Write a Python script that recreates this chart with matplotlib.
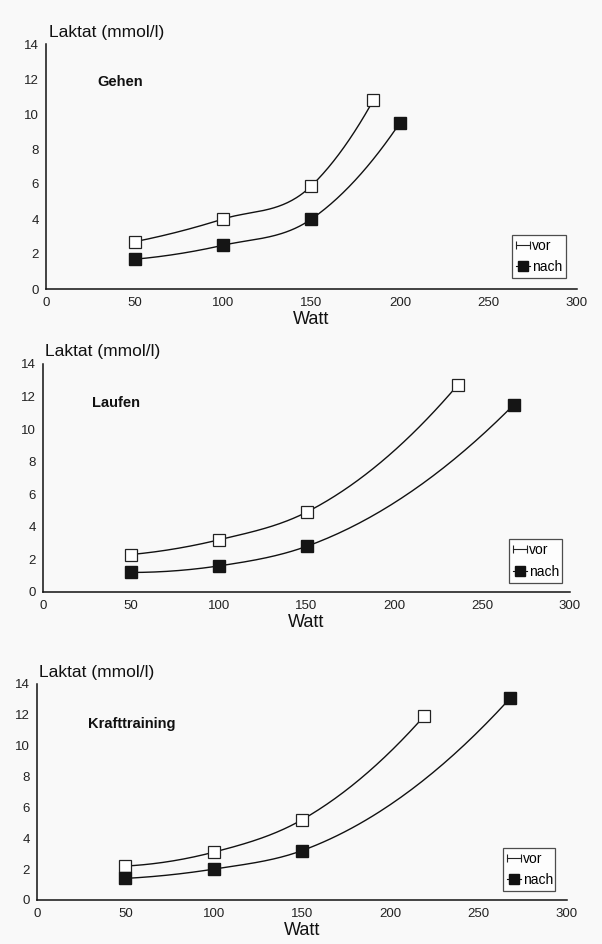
import numpy as np
import matplotlib.pyplot as plt
from matplotlib.lines import Line2D
from matplotlib.legend_handler import HandlerLine2D

plt.rcParams['font.family'] = ['Liberation Sans', 'DejaVu Sans']

W, H = 602, 944

# Laktat (mmol/l) against Watt, before (vor) and after (nach) training
gehen_vor_w = [50, 100, 150, 185]
gehen_vor = [2.7, 4.0, 5.9, 10.8]
gehen_nach_w = [50, 100, 150, 200]
gehen_nach = [1.7, 2.5, 4.0, 9.5]

laufen_vor_w = [50, 100, 150, 236]
laufen_vor = [2.3, 3.2, 4.9, 12.7]
laufen_nach_w = [50, 100, 150, 268]
laufen_nach = [1.2, 1.6, 2.8, 11.5]

kraft_vor_w = [50, 100, 150, 219]
kraft_vor = [2.2, 3.1, 5.2, 11.9]
kraft_nach_w = [50, 100, 150, 268]
kraft_nach = [1.4, 2.0, 3.2, 13.1]

titles = ['Gehen', 'Laufen', 'Krafttraining']
x_ticks = [0, 50, 100, 150, 200, 250, 300]
y_ticks = [0, 2, 4, 6, 8, 10, 12, 14]


def smooth(xs, ys, n=60):
    # cubic Hermite through the points, slopes from local parabolas
    x = np.asarray(xs, float)
    y = np.asarray(ys, float)
    h = np.diff(x)
    d = np.diff(y) / h
    m = np.empty_like(x)
    m[1:-1] = (h[:-1] * d[1:] + h[1:] * d[:-1]) / (h[:-1] + h[1:])
    m[0] = d[0] + (d[0] - d[1]) * h[0] / (h[0] + h[1])
    m[-1] = d[-1] + (d[-1] - d[-2]) * h[-1] / (h[-2] + h[-1])
    sx, sy = [], []
    for i in range(len(h)):
        t = np.linspace(0, 1, n)
        h00 = 2 * t ** 3 - 3 * t ** 2 + 1
        h10 = t ** 3 - 2 * t ** 2 + t
        h01 = -2 * t ** 3 + 3 * t ** 2
        h11 = t ** 3 - t ** 2
        sx.append(x[i] + t * h[i])
        sy.append(h00 * y[i] + h10 * h[i] * m[i] + h01 * y[i + 1] + h11 * h[i] * m[i + 1])
    return np.concatenate(sx), np.concatenate(sy)


def box(left, right, top, bottom):
    return [left / W, 1 - bottom / H, (right - left) / W, (bottom - top) / H]


fig = plt.figure(figsize=(W / 100, H / 100), dpi=100)
fig.patch.set_facecolor('#f9f9f9')

panels = [
    (box(46, 577, 44, 289), (gehen_vor_w, gehen_vor), (gehen_nach_w, gehen_nach),
     (49, 32), (97, 82), (512, 566, 234, 279)),
    (box(43, 570, 364, 592), (laufen_vor_w, laufen_vor), (laufen_nach_w, laufen_nach),
     (45, 351), (92, 403), (509, 562, 539, 583)),
    (box(37, 567, 684, 900), (kraft_vor_w, kraft_vor), (kraft_nach_w, kraft_nach),
     (39, 672), (88, 724), (503, 555, 847, 892)),
]

for (rect, vor, nach, lab, tpos, leg), title in zip(panels, titles):
    ax = fig.add_axes(rect)
    ax.set_facecolor('none')
    ax.set_xlim(0, 300)
    ax.set_ylim(0, 14)
    for side in ['top', 'right']:
        ax.spines[side].set_visible(False)
    for side in ['left', 'bottom']:
        ax.spines[side].set_linewidth(1.1)
        ax.spines[side].set_color('#111111')
    ax.set_xticks(x_ticks)
    ax.set_yticks(y_ticks)
    ax.tick_params(axis='x', length=0, labelsize=9.5, pad=6, colors='#222222')
    ax.tick_params(axis='y', length=0, labelsize=9.5, pad=5, colors='#222222')

    sx, sy = smooth(*vor)
    ax.plot(sx, sy, color='#111111', lw=1.0, zorder=2)
    ax.plot(vor[0], vor[1], ls='none', marker='s', ms=8, mfc='white',
            mec='#222222', mew=0.9, zorder=3)
    sx, sy = smooth(*nach)
    ax.plot(sx, sy, color='#111111', lw=1.0, zorder=2)
    ax.plot(nach[0], nach[1], ls='none', marker='s', ms=8.5, mfc='#151515',
            mec='#151515', zorder=3)

    fig.text(tpos[0] / W, 1 - tpos[1] / H, title, fontsize=10.5,
             fontweight='bold', va='center', ha='left', color='#111111')
    fig.text(lab[0] / W, 1 - lab[1] / H, 'Laktat (mmol/l)', fontsize=12.5,
             va='center', ha='left', color='#111111')
    ax.set_xlabel('Watt', fontsize=13, labelpad=1, color='#111111')

    h_vor = Line2D([], [], color='#222222', lw=0.8, marker='|', ms=6, mew=0.8)
    h_nach = Line2D([], [], color='#111111', lw=0.8, marker='s', ms=6.5)
    lg = fig.legend([h_vor, h_nach], ['vor', 'nach'],
                    bbox_to_anchor=box(*leg), loc='center', mode='expand',
                    fontsize=10, frameon=True, fancybox=False, handlelength=1.0,
                    handletextpad=0.15, borderpad=0.3, labelspacing=0.55,
                    borderaxespad=0,
                    handler_map={h_vor: HandlerLine2D(numpoints=2, marker_pad=0),
                                 h_nach: HandlerLine2D(numpoints=1)})
    fr = lg.get_frame()
    fr.set_edgecolor('#222222')
    fr.set_linewidth(0.9)
    fr.set_facecolor('white')

fig.savefig('out.png', dpi=100, facecolor=fig.get_facecolor())
